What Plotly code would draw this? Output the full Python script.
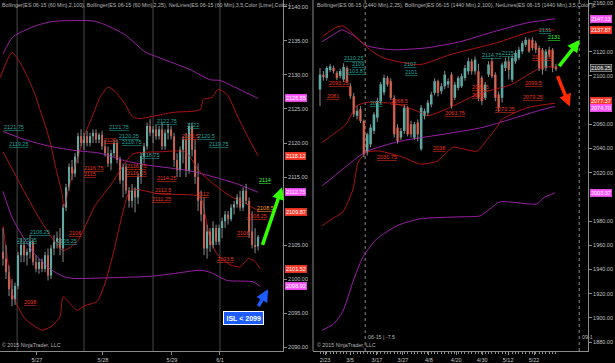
import plotly.graph_objects as go

# ---------------- LEFT PANEL : ES 06-15 (60 Min) ----------------
L_OPEN = [2104, 2103, 2101, 2098.5, 2097, 2099, 2103.5, 2105, 2103.5, 2104,
          2105.5, 2102.5, 2101.5, 2102.5, 2101.5, 2103.5, 2100.5, 2104.5, 2105.5, 2106,
          2104.5, 2110.5, 2113.5, 2116.5, 2115.5, 2118, 2121, 2120, 2121, 2120,
          2121, 2121.5, 2120.5, 2121.2, 2119.5, 2118.5, 2117, 2118.5, 2120, 2117.5,
          2114.5, 2116.5, 2113, 2111.5, 2113, 2112, 2115, 2118, 2119.5, 2122.5,
          2121.5, 2122, 2121, 2122, 2119.5, 2121.5, 2122, 2121, 2117.5, 2116,
          2119, 2120.5, 2116, 2122.5, 2119, 2115, 2111.5, 2109.5, 2104.5, 2107,
          2105, 2107.5, 2105.5, 2107.5, 2108.5, 2109.5, 2108.8, 2110.5, 2111, 2112,
          2110.5, 2113, 2111.5, 2107, 2105, 2104.8]
L_HIGH = [2107.5, 2105, 2102, 2100, 2099.5, 2104, 2106, 2105.5, 2104.5, 2106.5,
          2105.8, 2103.5, 2103, 2103, 2104, 2104.5, 2105, 2106.5, 2107, 2107.5,
          2111, 2114, 2117, 2117.5, 2118.5, 2121.5, 2122, 2121.5, 2121.8, 2121.5,
          2122, 2122, 2121.5, 2121.8, 2120.5, 2119.5, 2119, 2120.5, 2120.5, 2118,
          2117, 2117, 2113.5, 2114, 2113.5, 2115.5, 2118.5, 2120, 2123, 2123.5,
          2122.5, 2122.8, 2122.5, 2123, 2122, 2122.8, 2122.5, 2121.5, 2118.5, 2119.5,
          2121, 2121.5, 2123, 2123, 2120.5, 2117, 2113, 2112, 2108, 2107.5,
          2108.5, 2108, 2108, 2109, 2110, 2110, 2111, 2111.5, 2112.5, 2113,
          2113.5, 2114, 2112, 2110, 2107.5, 2106.5]
L_LOW = [2102, 2100, 2097.5, 2096, 2096.2, 2098.5, 2102.5, 2102.5, 2102, 2103,
         2102, 2101, 2100.8, 2101, 2101, 2099.8, 2100, 2103.5, 2104.5, 2103.5,
         2102.5, 2110, 2113, 2114.5, 2115, 2117, 2119.5, 2119, 2119.5, 2119.5,
         2120, 2120, 2120, 2119, 2118, 2116.5, 2116, 2118, 2117, 2114,
         2112, 2112.5, 2110.5, 2110.5, 2109.8, 2111, 2114, 2117, 2119, 2121,
         2120, 2120.5, 2120.5, 2119, 2119, 2120.5, 2120.5, 2116.5, 2115, 2115,
         2117, 2115, 2115.5, 2118, 2114, 2110, 2108.5, 2103.5, 2103, 2104,
         2104.5, 2105, 2105, 2106, 2107.5, 2108, 2108.5, 2109.5, 2110.5, 2110,
         2110, 2111, 2106, 2104.5, 2103.8, 2104.2]
L_CLOSE = [2103, 2101, 2098.5, 2097, 2099, 2103.5, 2105, 2103.5, 2104, 2105.5,
           2102.5, 2101.5, 2102.5, 2101.5, 2103.5, 2100.5, 2104.5, 2105.5, 2106, 2104.5,
           2110.5, 2113.5, 2116.5, 2115.5, 2118, 2121, 2120, 2121, 2120, 2121,
           2121.5, 2120.5, 2121.2, 2119.5, 2118.5, 2117, 2118.5, 2120, 2117.5, 2114.5,
           2116.5, 2113, 2111.5, 2113, 2112, 2115, 2118, 2119.5, 2122.5, 2121.5,
           2122, 2121, 2122, 2119.5, 2121.5, 2122, 2121, 2117.5, 2116, 2119,
           2120.5, 2116, 2122.5, 2119, 2115, 2111.5, 2109.5, 2104.5, 2107, 2105,
           2107.5, 2105.5, 2107.5, 2108.5, 2109.5, 2108.8, 2110.5, 2111, 2112, 2110.5,
           2113, 2111.5, 2107, 2105, 2104.8, 2106.2]

L_TICK_POS = [11.3, 33.3, 56.3, 72.3]
L_TICK_TXT = ["5/27", "5/28", "5/29", "6/1"]
L_SESSIONS = [4.7, 27, 50, 72.3]
L_PRICE_TICKS = [2090, 2095, 2100, 2105, 2115, 2120, 2125, 2130, 2135, 2140]

# Bollinger (2,100) - purple
L_BB100_UP_X = [0, 3.3, 10.7, 15.7, 19, 30, 34, 40.7, 47.3, 52.3, 62.3, 69, 72.3, 77.3, 85]
L_BB100_UP = [2133.1, 2135.6, 2137.2, 2137.8, 2137.95, 2137.95, 2137.4, 2135.9, 2133.4,
              2132.5, 2130.8, 2129.3, 2129.2, 2128.2, 2126.55]
L_BB100_MID_X = [0, 7.3, 15.7, 24, 32.3, 41.3, 49, 62.3, 77.3, 85]
L_BB100_MID = [2121.7, 2120.5, 2119.5, 2118.9, 2118.5, 2117.3, 2116.7, 2115.9, 2114.1, 2112.75]
L_BB100_LO_X = [0, 3.3, 10, 15.7, 20, 23.3, 35.7, 49, 56.7, 65.7, 69, 74.7, 83.3, 85.7]
L_BB100_LO = [2112.9, 2108.8, 2104.0, 2101.5, 2100.4, 2100.1, 2100.2, 2100.4, 2100.8,
              2101.3, 2101.0, 2099.8, 2099.6, 2098.92]
# Bollinger (2,25) - dark red
L_BB25_UP_X = [-1, 3, 5.7, 8.3, 10.7, 12.3, 14, 15.7, 17.3, 19.7, 20.3, 22.3, 24.7, 27.3,
               29.7, 32.3, 35, 37.3, 40.7, 43.3, 45.7, 49.7, 56.7, 65.7, 66.7, 69.7, 71.7,
               74.7, 78.3, 81.7, 85]
L_BB25_UP = [2129.6, 2133.3, 2131.8, 2129.6, 2127.1, 2124.9, 2122.7, 2120.1, 2116.9,
             2112.5, 2110.6, 2114.0, 2117.6, 2121.3, 2123.8, 2126.7, 2128.2, 2127.6,
             2125.7, 2123.8, 2123.6, 2123.9, 2124.5, 2124.9, 2126.4, 2126.7, 2127.9,
             2127.1, 2123.8, 2120.8, 2118.12]
L_BB25_MID_X = [0, 5.7, 12.3, 20, 24.7, 30.7, 35.7, 40, 43.3, 52.3, 60.7, 65.7, 69,
                75.7, 81.3, 85.7]
L_BB25_MID = [2118.7, 2114.0, 2108.8, 2104.2, 2105.5, 2110.8, 2113.7, 2116.6, 2118.4,
              2118.7, 2118.7, 2115.7, 2114.4, 2112.2, 2111.0, 2109.87]
L_BB25_LO_X = [0, 1.7, 3.3, 7.3, 13, 16.3, 19, 20, 22.3, 24.7, 27.3, 31.3, 34, 36.7,
               39, 41.7, 43.3, 52.3, 65.7, 67.3, 69, 71.3, 75.7, 79, 81.7, 83.7, 85.7]
L_BB25_LO = [2107.8, 2102.3, 2097.6, 2094.2, 2092.5, 2093.1, 2094.5, 2097.4, 2096.4,
             2095.4, 2096.1, 2096.7, 2099.4, 2103.7, 2108.1, 2112.5, 2113.2, 2112.5,
             2112.1, 2109.6, 2105.9, 2103.7, 2102.1, 2101.8, 2103.0, 2102.7, 2101.52]

# axis price tags (value, kind)
L_TAGS = [(2126.55, "m"), (2118.12, "r"), (2112.75, "m"), (2109.87, "r"),
          (2101.52, "r"), (2098.92, "m")]

# NetLines labels: (text, bar position, price, colour kind)
L_LABELS = [("2121.75", -0.3, 2122.3, "t"), ("2119.25", 1.3, 2119.9, "t"),
            ("2106.25", 8.3, 2106.9, "t"), ("2105.25", 4, 2105.7, "t"),
            ("2105.25", 17.3, 2105.6, "t"), ("2106", 21.3, 2106.8, "r"),
            ("2098", 6.3, 2096.7, "r"), ("2116.75", 26.3, 2116.4, "r"),
            ("2115", 26.3, 2115.4, "r"), ("2120", 33, 2120.5, "r"),
            ("2121.75", 34.7, 2122.4, "t"), ("2120.25", 38, 2121.1, "t"),
            ("2119.75", 39, 2120.1, "t"), ("2118.75", 45, 2118.3, "t"),
            ("2116.75", 40.7, 2116.6, "r"), ("2116.25", 40.7, 2115.6, "r"),
            ("2122.75", 50.7, 2123.2, "t"), ("2114.25", 50.7, 2114.8, "r"),
            ("2112.5", 50, 2113.1, "r"), ("2111.25", 49, 2111.8, "r"),
            ("2122", 60.7, 2122.6, "t"), ("2120.5", 59, 2121.0, "r"),
            ("2120.5", 64.2, 2121.1, "t"), ("2119.75", 68, 2119.9, "t"),
            ("2112", 64, 2112.5, "r"), ("2114", 84.7, 2114.6, "g"),
            ("2108.5", 84, 2110.4, "o"), ("2108.25", 80.7, 2109.2, "r"),
            ("2106", 77.3, 2106.7, "r"), ("2103.5", 70.7, 2103.0, "r")]

# ---------------- RIGHT PANEL : ES 06-15 (1440 Min) ----------------
R_OHLC = [
    (2088.7, 2106.6, 2075, 2101.1), (2101, 2104, 2096, 2099), (2098.3, 2108, 2096, 2106.6),
    (2104.8, 2110, 2103, 2107.9), (2106.6, 2108.5, 2102, 2103.8), (2102.5, 2104, 2096.5, 2098.3),
    (2100, 2106, 2098, 2104), (2097, 2110.5, 2095, 2107.5), (2106.6, 2108, 2094, 2095.6),
    (2091.4, 2094, 2081, 2083.2), (2083.2, 2086, 2066, 2068.2), (2067, 2075, 2064, 2071.2),
    (2072.5, 2075, 2061, 2062.7), (2062.7, 2064, 2033, 2035.3), (2036.7, 2053, 2034, 2051.7),
    (2043.5, 2060, 2041, 2057.2), (2054.5, 2070, 2052, 2068.2), (2065.5, 2082, 2062, 2079.2),
    (2079.2, 2095, 2077, 2093.0), (2086.3, 2101, 2084, 2098.3), (2098.3, 2100, 2091, 2092.8),
    (2095.6, 2098, 2080, 2081.8), (2081.8, 2084, 2049, 2051.7), (2057.3, 2060, 2044, 2046.2),
    (2049, 2057, 2047, 2054.5), (2054.5, 2076, 2052, 2073.7), (2073.7, 2075, 2050, 2051.7),
    (2060, 2063, 2049, 2051.7), (2049, 2062, 2047, 2060), (2061.4, 2064, 2046, 2051.7),
    (2039.4, 2076, 2038, 2073.7), (2066.8, 2073, 2064, 2070.9), (2069.6, 2080, 2067, 2077.8),
    (2076.4, 2087, 2074, 2084.6), (2086, 2098, 2084, 2095.6), (2095.6, 2097, 2083, 2086),
    (2087.3, 2094, 2085, 2091.4), (2091.4, 2104, 2089, 2101.1), (2092.8, 2098, 2090, 2095.6),
    (2101.1, 2103, 2073, 2075), (2081.9, 2095, 2080, 2092.8), (2090.1, 2100, 2088, 2098.3),
    (2091.4, 2102, 2090, 2099.7), (2098.3, 2109, 2096, 2106.6), (2103.8, 2115, 2101, 2112),
    (2112, 2114, 2101, 2103.8), (2103.8, 2116, 2101, 2113.4), (2103.8, 2110, 2079, 2081.9),
    (2098.3, 2100, 2076, 2079.1), (2081.9, 2095, 2080, 2092.8), (2101.1, 2112, 2099, 2109.3),
    (2112, 2115, 2098, 2099.7), (2101.1, 2103, 2079, 2081.9), (2084.6, 2087, 2070.25, 2073.7),
    (2081.9, 2111, 2078, 2109.3), (2106.6, 2115, 2104, 2112), (2112, 2116, 2097, 2105),
    (2096.9, 2117, 2095, 2114.8), (2112, 2121, 2110, 2118.9), (2114.8, 2124, 2113, 2121.6),
    (2120.2, 2129, 2118, 2127.1), (2125.7, 2132, 2124, 2129.8), (2129.8, 2131, 2119, 2120.2),
    (2129.8, 2132, 2121, 2123), (2127.1, 2129, 2119, 2121.6), (2123, 2125, 2104, 2106.6),
    (2121.6, 2123, 2101, 2105.2), (2106.6, 2122, 2104, 2120.2), (2121.6, 2124, 2115, 2117.5),
    (2121.6, 2123, 2103, 2106.6), (2107.5, 2110, 2104, 2106.25)]
R_OPEN = [r[0] for r in R_OHLC]
R_HIGH = [r[1] for r in R_OHLC]
R_LOW = [r[2] for r in R_OHLC]
R_CLOSE = [r[3] for r in R_OHLC]

R_TICK_POS = [1.5, 8.9, 16.9, 24.6, 32.3, 40.4, 48.1, 55.8, 63.5]
R_TICK_TXT = ["2/23", "3/5", "3/17", "3/27", "4/8", "4/20", "4/30", "5/12", "5/22"]
R_ROLLS = [13.4, 76.9]
R_PRICE_TICKS = [1880, 1900, 1920, 1940, 1960, 1980, 2020, 2040, 2060, 2100, 2120, 2160]

R_BB100_UP_X = [0.6, 3.9, 6.5, 9.8, 13.9, 21.4, 31.8, 41.5, 51.4, 61.4, 69.7]
R_BB100_UP = [2128.2, 2134, 2138.0, 2133.5, 2124.9, 2121.6, 2123.2, 2128.2, 2136.4, 2143.8, 2147.13]
R_BB100_MID_X = [0.6, 6.8, 13.4, 23.7, 36.5, 48.4, 56.4, 66.2, 69.7]
R_BB100_MID = [2009.0, 2023.0, 2037.0, 2046.0, 2051.7, 2057.5, 2064.1, 2072.3, 2074.7]
R_BB100_LO_X = [0.6, 3.9, 6.8, 9.8, 12.8, 16.9, 22.8, 29.7, 41.5, 47.5, 50.4, 53.4, 64.4, 66.2, 69.7]
R_BB100_LO = [1889.8, 1894.8, 1905.5, 1930.1, 1950.7, 1965.4, 1976.1, 1981.9, 1983.5,
              1984.3, 1990, 1995.9, 1994.2, 1999.1, 2003.37]
R_BB25_UP_X = [0.6, 4.5, 6.8, 11, 14.8, 18.7, 24.6, 29.7, 38.6, 46.6, 52.5, 61.4, 65.3, 69.7]
R_BB25_UP = [2132.3, 2139.7, 2141.3, 2131.5, 2121.6, 2115.0, 2110.9, 2109.3, 2117.5,
             2123.2, 2127.4, 2135.6, 2138.0, 2137.87]
R_BB25_MID_X = [0.6, 3.9, 7.7, 10.7, 13.6, 17.8, 22.3, 29.7, 32, 39.2, 46.9, 56.7, 65.6, 70]
R_BB25_MID = [2045, 2051.7, 2060, 2074.8, 2078, 2078, 2077, 2070, 2067, 2074.8, 2085,
              2092.8, 2106.8, 2107.6]
R_BB25_LO_X = [0.6, 3.6, 6.8, 9.8, 11.3, 13.9, 17.8, 24.6, 29.7, 34.7, 37.7, 39.5, 46.6,
               49.6, 52.5, 54, 61.7, 69.7]
R_BB25_LO = [1976.1, 1981.9, 1987.6, 2006.5, 2028.7, 2037.0, 2037.8, 2032.8, 2027.1,
             2029.5, 2037.0, 2041.1, 2037.8, 2047.6, 2057.5, 2064.1, 2073.9, 2077.37]

# (value, kind, vertical nudge in px)
R_TAGS = [(2147.13, "m", 0), (2137.87, "r", 0), (2106.25, "k", 0), (2077.37, "r", 2),
          (2074.70, "m", -2), (2003.37, "m", 0)]

R_LABELS = [("2110.25", 6.5, 2115.0, "t"), ("2109", 8.9, 2109.6, "t"),
            ("2103.87", 7.1, 2104.0, "t"), ("2093.25", 2, 2094.5, "r"),
            ("2081", 1.5, 2083.0, "r"), ("2075", 14.2, 2078.0, "t"),
            ("2068.5", 20.5, 2078.9, "r"), ("2030.75", 16.3, 2032.8, "r"),
            ("2038", 33, 2040.2, "r"), ("2107", 24.3, 2109.6, "t"),
            ("2101", 24.6, 2103.5, "t"), ("2063.75", 36.5, 2069.0, "r"),
            ("2114.75", 47.5, 2117.5, "t"), ("2115", 53.4, 2119.1, "t"),
            ("2113.25", 62.3, 2115.9, "r"), ("2099.5", 60.2, 2094.5, "r"),
            ("2079.25", 59.6, 2082.2, "r"), ("2070.25", 51.3, 2072.3, "r"),
            ("2081.5", 44.5, 2090.4, "r"), ("2078", 44.5, 2083.8, "r"),
            ("2131", 64.4, 2137.9, "t"), ("2131", 67.1, 2132.3, "g")]

# ---------------- styling ----------------
FONT = "Liberation Sans, Arial, sans-serif"
UP_C, DN_C, WICK_C = "#3fc4ba", "#f03a1c", "#8a8a8a"
PURPLE, DRED = "#9b1fa6", "#b01212"
LAB_C = {"t": "#21a69c", "r": "#e8341c", "g": "#33ff33", "o": "#ff9a1a"}
TAG_BG = {"m": "#ff55ff", "r": "#ff3a2a", "k": "#2a2a2a"}
TXT = "#c4c4c4"
AX = "#8a8a8a"

L_DOM = [0, 283 / 615]
R_DOM = [313 / 615, 588 / 615]
Y_DOM = [10 / 363, 1]

fig = go.Figure()


def add_candles(O, H, L, C, xa, ya, width):
    xs = list(range(len(O)))
    wx, wy = [], []
    for i in xs:
        wx += [i, i, None]
        wy += [L[i], H[i], None]
    fig.add_trace(go.Scatter(x=wx, y=wy, mode="lines", line=dict(color=WICK_C, width=1),
                             xaxis=xa, yaxis=ya, hoverinfo="skip", showlegend=False))
    span = max(H) - min(L)
    fig.add_trace(go.Bar(x=xs, y=[max(abs(c - o), span * 0.004) for o, c in zip(O, C)],
                         base=[min(o, c) for o, c in zip(O, C)],
                         marker=dict(color=[UP_C if c >= o else DN_C for o, c in zip(O, C)],
                                     line=dict(width=0)),
                         width=width, xaxis=xa, yaxis=ya, showlegend=False))


def add_line(xs, ys, color, xa, ya):
    fig.add_trace(go.Scatter(x=xs, y=ys, mode="lines",
                             line=dict(color=color, width=1, shape="spline", smoothing=0.6),
                             xaxis=xa, yaxis=ya, hoverinfo="skip", showlegend=False))


# left panel
add_line(L_BB100_UP_X, L_BB100_UP, PURPLE, "x", "y")
add_line(L_BB100_MID_X, L_BB100_MID, PURPLE, "x", "y")
add_line(L_BB100_LO_X, L_BB100_LO, PURPLE, "x", "y")
add_line(L_BB25_UP_X, L_BB25_UP, DRED, "x", "y")
add_line(L_BB25_MID_X, L_BB25_MID, DRED, "x", "y")
add_line(L_BB25_LO_X, L_BB25_LO, DRED, "x", "y")
add_candles(L_OPEN, L_HIGH, L_LOW, L_CLOSE, "x", "y", 0.7)

# right panel
add_line(R_BB100_UP_X, R_BB100_UP, PURPLE, "x2", "y2")
add_line(R_BB100_MID_X, R_BB100_MID, PURPLE, "x2", "y2")
add_line(R_BB100_LO_X, R_BB100_LO, PURPLE, "x2", "y2")
add_line(R_BB25_UP_X, R_BB25_UP, DRED, "x2", "y2")
add_line(R_BB25_MID_X, R_BB25_MID, DRED, "x2", "y2")
add_line(R_BB25_LO_X, R_BB25_LO, DRED, "x2", "y2")
add_candles(R_OPEN, R_HIGH, R_LOW, R_CLOSE, "x2", "y2", 0.75)

annotations = []
shapes = []

for v in L_SESSIONS:
    shapes.append(dict(type="line", xref="x", yref="paper", x0=v, x1=v, y0=Y_DOM[0], y1=1,
                       line=dict(color="#4a4a4a", width=1), layer="below"))
for v in R_ROLLS:
    shapes.append(dict(type="line", xref="x2", yref="paper", x0=v, x1=v, y0=Y_DOM[0], y1=1,
                       line=dict(color="#8a8a8a", width=1, dash="dot"), layer="below"))
# right panel left border
shapes.append(dict(type="line", xref="paper", yref="paper", x0=R_DOM[0], x1=R_DOM[0], y0=Y_DOM[0], y1=1,
                   line=dict(color=AX, width=1)))


def add_labels(labels, xr, yr):
    for txt, xp, yp, k in labels:
        annotations.append(dict(text=txt, x=xp, y=yp, xref=xr, yref=yr, xanchor="left", yanchor="middle",
                                showarrow=False,
                                font=dict(size=5.5, color=LAB_C[k], family=FONT, lineposition="under")))


add_labels(L_LABELS, "x", "y")
add_labels(R_LABELS, "x2", "y2")


def add_tags(tags, xpaper, yr):
    for v, k, dy in tags:
        annotations.append(dict(text=f"{v:.2f}", x=xpaper, y=v, xref="paper", yref=yr, xanchor="left",
                                yanchor="middle", yshift=dy, showarrow=False, bgcolor=TAG_BG[k], borderpad=0.5,
                                bordercolor="#d0d0d0" if k == "k" else TAG_BG[k], borderwidth=0.5,
                                font=dict(size=5.5, color="white", family=FONT)))


add_tags([(v, k, 0) for v, k in L_TAGS], L_DOM[1] + 0.004, "y")
add_tags(R_TAGS, R_DOM[1] + 0.004, "y2")

# titles
annotations.append(dict(text="Bollinger(ES 06-15 (60 Min),2,100), Bollinger(ES 06-15 (60 Min),2,25), "
                             "NetLines(ES 06-15 (60 Min),3,5,Color [Lime],Color [",
                        x=0, y=1, xref="paper", yref="paper", xanchor="left", yanchor="top", showarrow=False,
                        font=dict(size=5.3, color="#b8b8b8", family=FONT)))
annotations.append(dict(text="Bollinger(ES 06-15 (1440 Min),2,25), Bollinger(ES 06-15 (1440 Min),2,100), "
                             "NetLines(ES 06-15 (1440 Min),3,5,Color [L",
                        x=R_DOM[0] + 0.003, y=1, xref="paper", yref="paper", xanchor="left", yanchor="top",
                        showarrow=False, font=dict(size=5.3, color="#b8b8b8", family=FONT)))
# footers
for xp in (0.0, R_DOM[0] + 0.004):
    annotations.append(dict(text="© 2015 NinjaTrader, LLC", x=xp, y=Y_DOM[0] + 0.004, xref="paper",
                            yref="paper", xanchor="left", yanchor="bottom", showarrow=False,
                            font=dict(size=5.3, color="#b8b8b8", family=FONT)))
annotations.append(dict(text="06-15 | -7.5", x=R_ROLLS[0] + 0.3, y=Y_DOM[0] + 0.025, xref="x2", yref="paper",
                        xanchor="left", yanchor="bottom", showarrow=False,
                        font=dict(size=5.3, color="#b8b8b8", family=FONT)))
annotations.append(dict(text="09-1", x=R_ROLLS[1] + 0.3, y=Y_DOM[0] + 0.025, xref="x2", yref="paper",
                        xanchor="left", yanchor="bottom", showarrow=False,
                        font=dict(size=5.3, color="#b8b8b8", family=FONT)))

# arrows
ARROWS = [("x", "y", 86.3, 2104.8, 93.0, 2113.5, "#33ff00"),
          ("x", "y", 84.8, 2095.8, 88.3, 2098.5, "#1f5cff"),
          ("x2", "y2", 70.6, 2106.8, 77.1, 2129.8, "#33ff00"),
          ("x2", "y2", 70.3, 2101.1, 74.1, 2074.7, "#ff2a00")]
for xa, ya, tx, ty, hx, hy, col in ARROWS:
    annotations.append(dict(text="", x=hx, y=hy, ax=tx, ay=ty, xref=xa, yref=ya, axref=xa, ayref=ya,
                            showarrow=True, arrowhead=2, arrowsize=0.7, arrowwidth=3.5, arrowcolor=col))

annotations.append(dict(text="<b>ISL &lt; 2099</b>", x=80.0, y=2094.3, xref="x", yref="y",
                        xanchor="center", yanchor="middle", showarrow=False, bgcolor="#1f5cff",
                        bordercolor="white", borderwidth=1, borderpad=2.5,
                        font=dict(size=7, color="white", family=FONT)))

axis_common = dict(showgrid=False, zeroline=False, showline=True, linecolor=AX, linewidth=1,
                   ticks="outside", ticklen=3, tickcolor=AX,
                   tickfont=dict(size=5.5, color=TXT, family=FONT), fixedrange=True)

fig.update_layout(
    width=615, height=363, margin=dict(l=0, r=0, t=0, b=0),
    paper_bgcolor="black", plot_bgcolor="black", showlegend=False, barmode="overlay",
    xaxis=dict(domain=L_DOM, range=[-1, 93.3], anchor="y", tickmode="array",
               tickvals=L_TICK_POS, ticktext=L_TICK_TXT, **axis_common),
    yaxis=dict(domain=Y_DOM, range=[2089.42, 2141.02], anchor="x", side="right", tickmode="array",
               tickvals=L_PRICE_TICKS, tickformat=".2f", **axis_common),
    xaxis2=dict(domain=R_DOM, range=[-2.08, 79.5], anchor="y2", tickmode="array",
                tickvals=R_TICK_POS, ticktext=R_TICK_TXT,
                minor=dict(ticks="outside", ticklen=2, tickcolor=AX, tickmode="array",
                           tickvals=list(range(len(R_OPEN)))),
                **axis_common),
    yaxis2=dict(domain=Y_DOM, range=[1872.6, 2162.7], anchor="x2", side="right", tickmode="array",
                tickvals=R_PRICE_TICKS, tickformat=".2f", **axis_common),
    annotations=annotations, shapes=shapes,
)

fig.write_html("out.html")
